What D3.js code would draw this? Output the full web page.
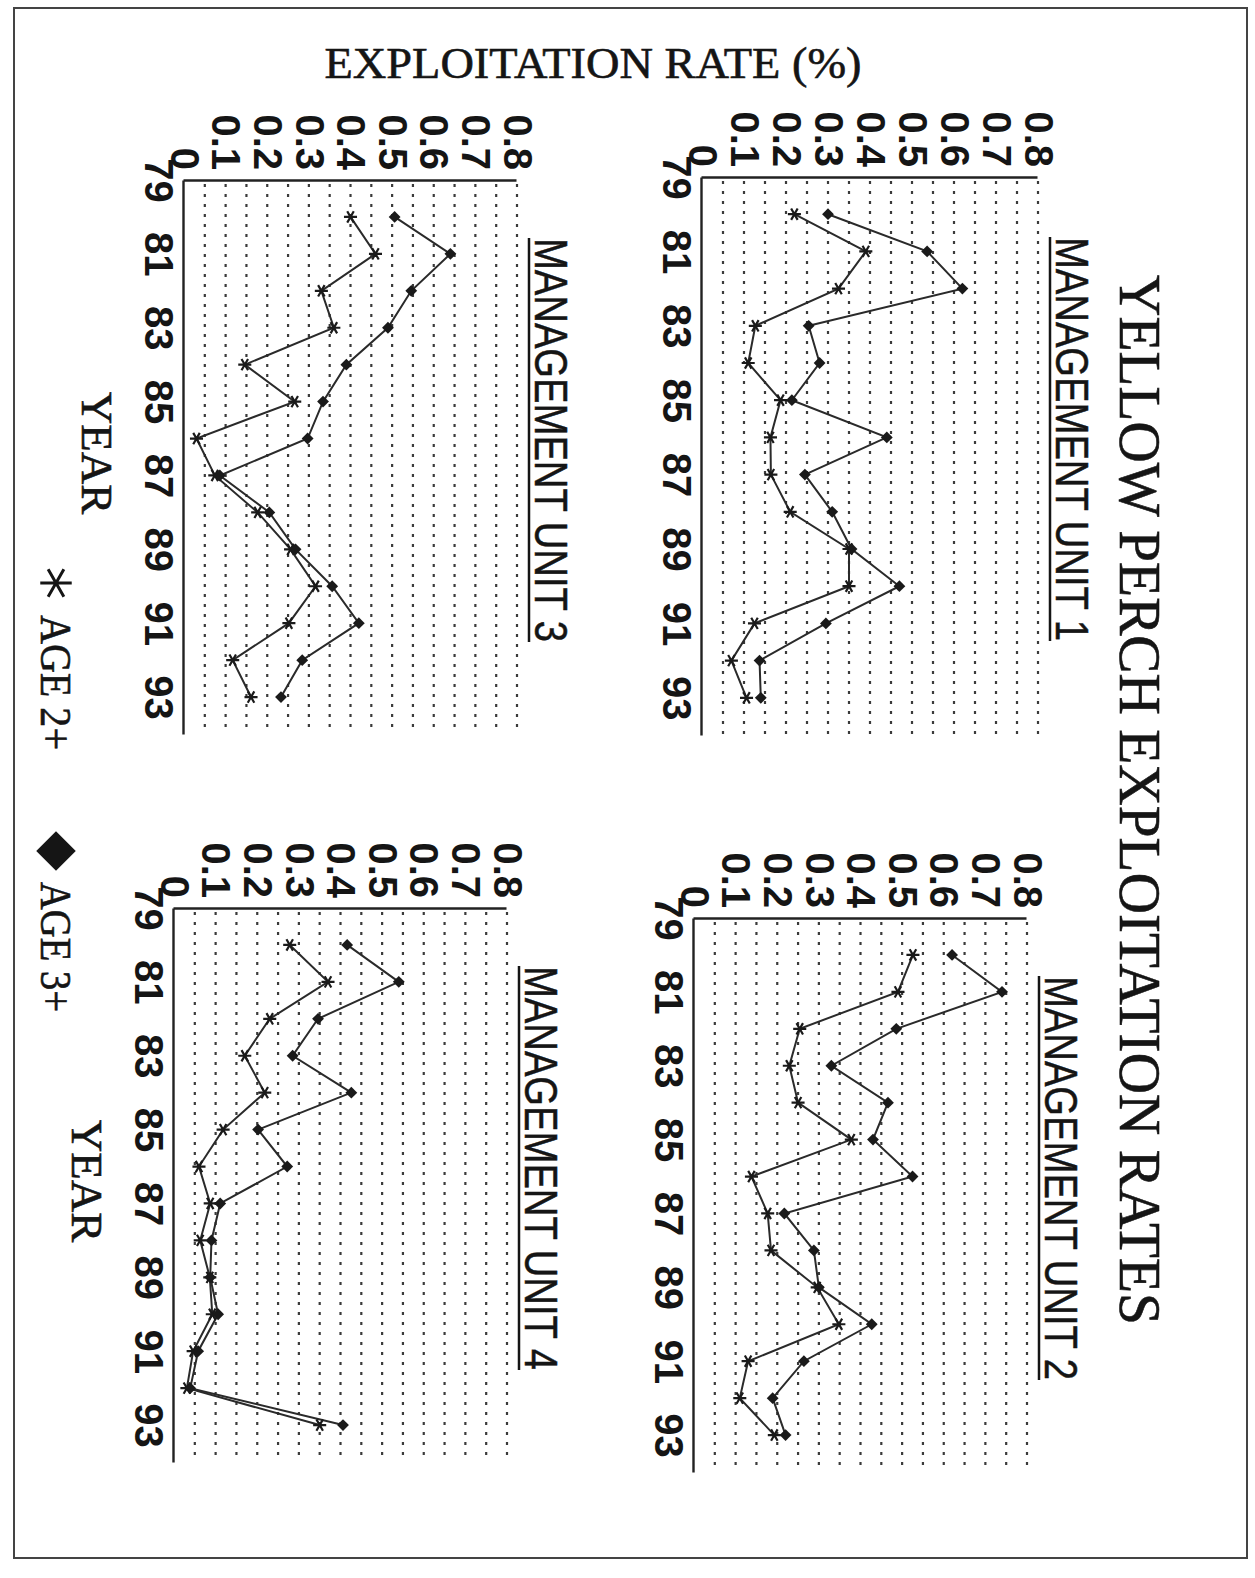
<!DOCTYPE html>
<html><head><meta charset="utf-8">
<script src="https://cdn.jsdelivr.net/npm/d3@7"></script>
<style>body{margin:0;background:#fff}</style>
</head><body>
<svg id="chart" width="1255" height="1578"></svg>
<script>
// ---------- data ----------
const years = [80,81,82,83,84,85,86,87,88,89,90,91,92,93];
const yearTicks = [79,81,83,85,87,89,91,93];
const rateTicks = [0,0.1,0.2,0.3,0.4,0.5,0.6,0.7,0.8];
const gridValues = [0.05,0.1,0.15,0.2,0.25,0.3,0.35,0.4,0.45,0.5,0.55,0.6,0.65,0.7,0.75,0.8];
const unitNames = ["MANAGEMENT UNIT 1","MANAGEMENT UNIT 2","MANAGEMENT UNIT 3","MANAGEMENT UNIT 4"];
const seriesNames = ["AGE 2+","AGE 3+"];
const unit1Age2 = [0.22,0.39,0.325,0.127,0.11,0.187,0.163,0.164,0.21,0.35,0.35,0.125,0.07,0.106];
const unit1Age3 = [0.30,0.536,0.62,0.254,0.28,0.214,0.44,0.245,0.31,0.356,0.47,0.295,0.137,0.14];
const unit2Age2 = [0.526,0.49,0.254,0.229,0.25,0.378,0.138,0.177,0.185,0.296,0.348,0.13,0.11,0.193];
const unit2Age3 = [0.62,0.74,0.486,0.33,0.466,0.43,0.525,0.217,0.288,0.30,0.427,0.264,0.189,0.22];
const unit3Age2 = [0.40,0.46,0.33,0.36,0.146,0.266,0.03,0.074,0.177,0.256,0.316,0.252,0.117,0.161];
const unit3Age3 = [0.506,0.64,0.546,0.49,0.39,0.334,0.297,0.086,0.205,0.268,0.356,0.42,0.284,0.233];
const unit4Age2 = [0.278,0.37,0.23,0.17,0.218,0.118,0.06,0.087,0.063,0.086,0.092,0.046,0.031,0.35];
const unit4Age3 = [0.416,0.54,0.346,0.285,0.426,0.202,0.272,0.111,0.09,0.087,0.106,0.058,0.039,0.406];
const titleText = "YELLOW PERCH EXPLOITATION RATES";
const yAxisTitle = "EXPLOITATION RATE (%)";
const xAxisTitle = "YEAR";

// ---------- layout (page is drawn landscape then turned 90° clockwise) ----------
const W = 1255, H = 1578;
const svg = d3.select("#chart");
svg.append("rect").attr("width", W).attr("height", H).attr("fill", "#fff");
svg.append("rect").attr("x", 14).attr("y", 8).attr("width", 1233).attr("height", 1550)
  .attr("fill", "none").attr("stroke", "#444").attr("stroke-width", 2);

const g = svg.append("g").attr("transform", `translate(${W},0) rotate(90)`);

const serif = "'Liberation Serif','Times New Roman',serif";
const narrow = "'Liberation Sans Narrow','Arial Narrow','Liberation Sans',sans-serif";
const ink = "#151515";

g.append("text").text(titleText)
  .attr("x", 800).attr("y", 135).attr("text-anchor", "middle")
  .attr("font-family", serif).attr("font-size", 60).attr("fill", ink)
  .attr("stroke", ink).attr("stroke-width", 0.6)
  .attr("textLength", 1050).attr("lengthAdjust", "spacingAndGlyphs");

g.append("text").text(yAxisTitle)
  .attr("transform", "translate(78,662) rotate(-90)").attr("text-anchor", "middle")
  .attr("font-family", serif).attr("font-size", 45).attr("fill", ink)
  .attr("stroke", ink).attr("stroke-width", 0.6)
  .attr("textLength", 537).attr("lengthAdjust", "spacingAndGlyphs");

const panels = [
  {name: unitNames[0], a2: unit1Age2, a3: unit1Age3, x0: 177, x1: 735, y0: 553, y1: 217, xTitle: false},
  {name: unitNames[1], a2: unit2Age2, a3: unit2Age3, x0: 918, x1: 1472, y0: 561, y1: 228, xTitle: false},
  {name: unitNames[2], a2: unit3Age2, a3: unit3Age3, x0: 180, x1: 734, y0: 1071, y1: 738, xTitle: true},
  {name: unitNames[3], a2: unit4Age2, a3: unit4Age3, x0: 908, x1: 1462, y0: 1081, y1: 748, xTitle: true}
];

const fmtRate = d => d === 0 ? "0" : d.toFixed(1);
const starSmall = d3.symbol(d3.symbolAsterisk, 120);
const diamondSmall = d3.symbol(d3.symbolSquare, 70);

panels.forEach(p => {
  const x = d3.scaleLinear().domain([79, 94]).range([p.x0, p.x1]);
  const y = d3.scaleLinear().domain([0, 0.8]).range([p.y0, p.y1]);
  const pg = g.append("g");

  // dotted gridlines
  pg.selectAll("line.grid").data(gridValues).join("line").attr("class", "grid")
    .attr("x1", p.x0 + 4).attr("x2", p.x1).attr("y1", d => y(d)).attr("y2", d => y(d))
    .attr("stroke", "#3a3a3a").attr("stroke-width", 2.2).attr("stroke-dasharray", "3,7");

  // axes
  const ax = pg.append("g").attr("transform", `translate(0,${p.y0})`)
    .call(d3.axisBottom(x).tickValues(yearTicks).tickFormat(d => d).tickSize(0).tickSizeOuter(0).tickPadding(10));
  const ay = pg.append("g").attr("transform", `translate(${p.x0},0)`)
    .call(d3.axisLeft(y).tickValues(rateTicks).tickFormat(fmtRate).tickSize(0).tickSizeOuter(0).tickPadding(10));
  [ax, ay].forEach(a => {
    a.select(".domain").attr("stroke", "#222").attr("stroke-width", 2.4);
    a.selectAll("text").attr("font-family", narrow).attr("font-weight", "bold")
      .attr("font-size", 40).attr("fill", ink);
  });
  ax.selectAll("text").attr("dy", "0.72em");

  // unit title (underlined)
  const tx = (p.x0 + p.x1) / 2 - 17;
  pg.append("text").text(p.name)
    .attr("x", tx).attr("y", p.y1 - 18).attr("text-anchor", "middle")
    .attr("font-family", narrow).attr("font-size", 46).attr("fill", ink)
    .attr("stroke", ink).attr("stroke-width", 0.5)
    .attr("textLength", 404).attr("lengthAdjust", "spacingAndGlyphs");
  pg.append("line").attr("x1", tx - 202).attr("x2", tx + 202)
    .attr("y1", p.y1 - 12).attr("y2", p.y1 - 12).attr("stroke", ink).attr("stroke-width", 2.5);

  if (p.xTitle) {
    pg.append("text").text(xAxisTitle)
      .attr("x", (p.x0 + p.x1) / 2 - 4).attr("y", p.y0 + 102).attr("text-anchor", "middle")
      .attr("font-family", serif).attr("font-size", 45).attr("fill", ink)
      .attr("stroke", ink).attr("stroke-width", 0.6);
  }

  // series
  const line = (vals) => d3.line().x((d, i) => x(years[i])).y(d => y(d))(vals);
  pg.append("path").attr("d", line(p.a2)).attr("fill", "none").attr("stroke", "#2a2a2a").attr("stroke-width", 2);
  pg.append("path").attr("d", line(p.a3)).attr("fill", "none").attr("stroke", "#2a2a2a").attr("stroke-width", 2);
  pg.selectAll("path.s2").data(p.a2).join("path").attr("class", "s2")
    .attr("d", starSmall).attr("transform", (d, i) => `translate(${x(years[i])},${y(d)})`)
    .attr("fill", "none").attr("stroke", "#1a1a1a").attr("stroke-width", 2.2);
  pg.selectAll("path.s3").data(p.a3).join("path").attr("class", "s3")
    .attr("d", diamondSmall).attr("transform", (d, i) => `translate(${x(years[i])},${y(d)}) rotate(45)`)
    .attr("fill", "#1a1a1a");
});

// legend
const lg = g.append("g");
lg.append("path").attr("d", d3.symbol(d3.symbolAsterisk, 700)())
  .attr("transform", "translate(583,1199)").attr("fill", "none").attr("stroke", ink).attr("stroke-width", 3);
lg.append("text").text(seriesNames[0]).attr("x", 615).attr("y", 1214)
  .attr("font-family", serif).attr("font-size", 44).attr("fill", ink)
  .attr("stroke", ink).attr("stroke-width", 0.6)
  .attr("textLength", 135).attr("lengthAdjust", "spacingAndGlyphs");
lg.append("path").attr("d", d3.symbol(d3.symbolSquare, 780)())
  .attr("transform", "translate(851,1199) rotate(45)").attr("fill", ink);
lg.append("text").text(seriesNames[1]).attr("x", 882).attr("y", 1214)
  .attr("font-family", serif).attr("font-size", 44).attr("fill", ink)
  .attr("stroke", ink).attr("stroke-width", 0.6)
  .attr("textLength", 130).attr("lengthAdjust", "spacingAndGlyphs");
</script>
</body></html>
